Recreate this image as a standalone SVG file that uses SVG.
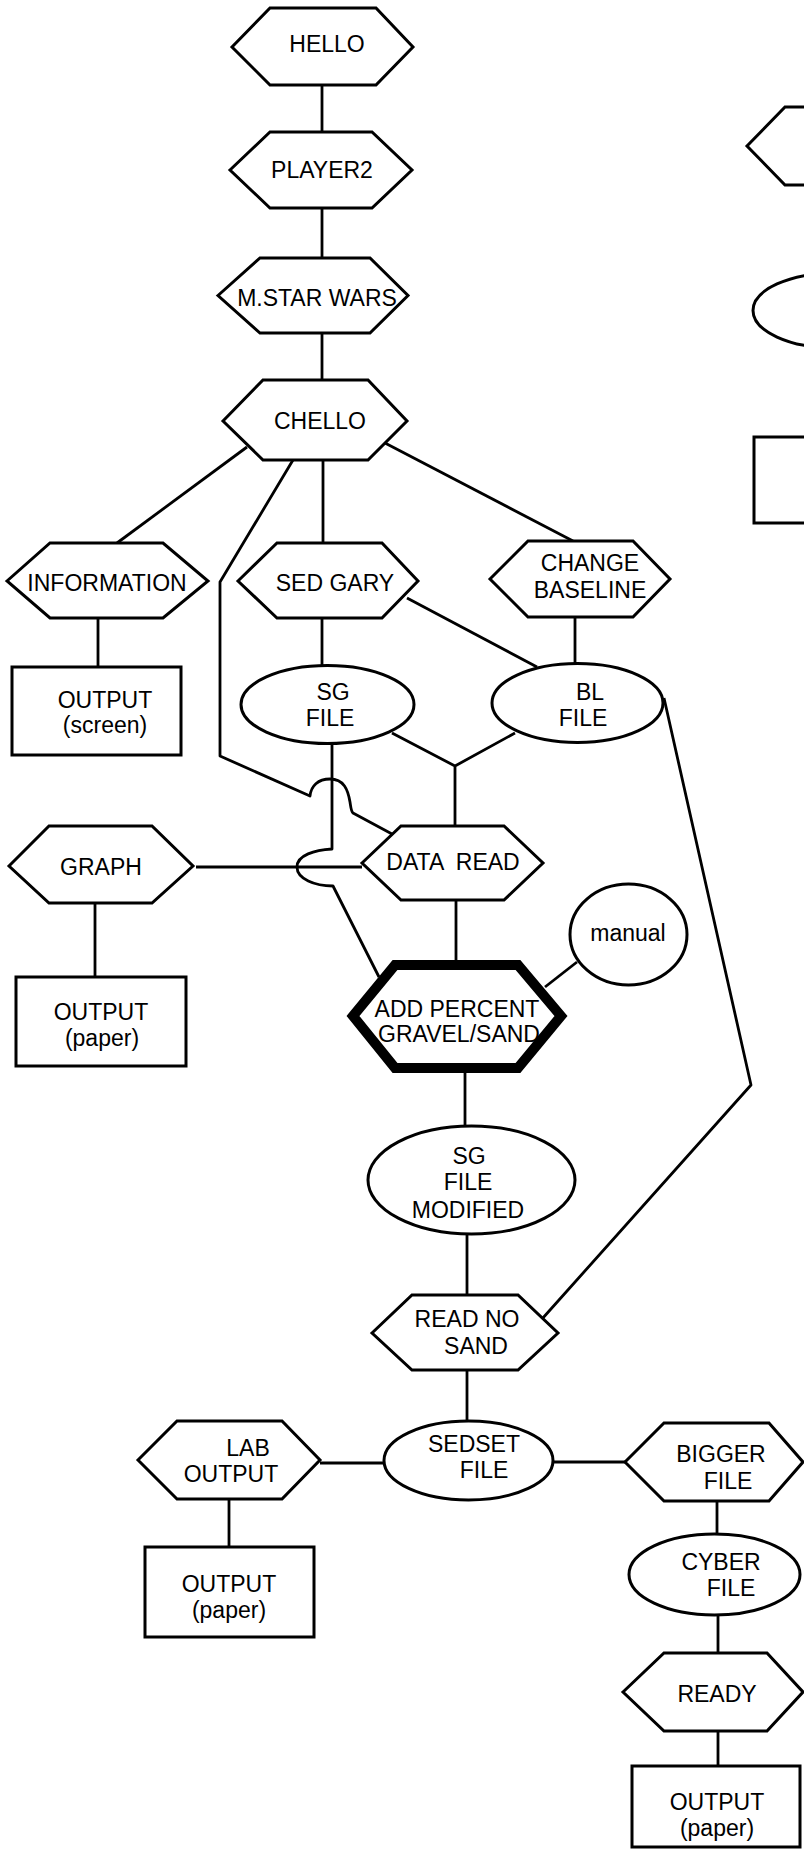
<svg xmlns="http://www.w3.org/2000/svg" width="804" height="1853" viewBox="0 0 804 1853">
<style>
.s{fill:#fff;stroke:#000;stroke-width:3;stroke-linejoin:miter}
.c{fill:none;stroke:#000;stroke-width:2.8;stroke-linejoin:round}
text{font-family:"Liberation Sans",Arial,Helvetica,sans-serif;font-size:23px;fill:#000;text-anchor:middle}
</style>
<rect width="804" height="1853" fill="#fff"/>
<g id="connectors" class="c">
<path d="M322,85V132"/>
<path d="M322,208V258"/>
<path d="M322,333V380"/>
<path d="M247,447L117,543"/>
<path d="M323,460V543"/>
<path d="M385,443L573,541"/>
<path d="M293,460L220,582V756L310,796C311,786 318,779 330,779C344,779 348,790 350,802C351,808 351,811 353,813L392,834"/>
<path d="M98,618V667"/>
<path d="M322,618V666"/>
<path d="M407,598L537,667"/>
<path d="M575,617V664"/>
<path d="M392,733L455,766L515,733M455,766V826"/>
<path d="M332,743V849C315,850 297,855 297,867C297,879 315,886 333,886L379,977"/>
<path d="M196,867H362"/>
<path d="M95,903V977"/>
<path d="M456,900V960"/>
<path d="M577,962L545,987"/>
<path d="M465,1073V1126"/>
<path d="M664,698L751,1085L542,1319"/>
<path d="M467,1234V1295"/>
<path d="M467,1370V1421"/>
<path d="M320,1463H384"/>
<path d="M553,1462H625"/>
<path d="M229,1499V1547"/>
<path d="M717,1501V1534"/>
<path d="M718,1615V1653"/>
<path d="M718,1731V1766"/>
</g>
<g id="legend">
<polygon class="s" points="747,146 785,107 900,107 900,185 785,185"/>
<ellipse class="s" cx="835" cy="310.5" rx="82" ry="37.5"/>
<rect class="s" x="754" y="437" width="120" height="86"/>
</g>
<g id="hello"><polygon class="s" points="232,47 270,8 376,8 413,47 376,85 270,85"/><text x="327" y="52">HELLO</text></g>
<g id="player2"><polygon class="s" points="230,170 270,132 372,132 412,170 372,208 270,208"/><text x="322" y="178">PLAYER2</text></g>
<g id="mstarwars"><polygon class="s" points="218,295.5 260,258 370,258 408,295.5 370,333 260,333"/><text x="317" y="306">M.STAR WARS</text></g>
<g id="chello"><polygon class="s" points="223,421 263,380 368,380 407,421 368,460 263,460"/><text x="320" y="429">CHELLO</text></g>
<g id="information"><polygon class="s" points="7,581 50,543 163,543 208,581 163,618 50,618"/><text x="107" y="591">INFORMATION</text></g>
<g id="sedgary"><polygon class="s" points="238,581 277,543 382,543 418,581 382,618 277,618"/><text x="335" y="591">SED GARY</text></g>
<g id="changebaseline"><polygon class="s" points="490,579 528,541 633,541 670,579 633,617 528,617"/><text x="590" y="571">CHANGE</text><text x="590" y="598">BASELINE</text></g>
<g id="outputscreen"><rect class="s" x="12" y="667" width="169" height="88"/><text x="105" y="708">OUTPUT</text><text x="105" y="733">(screen)</text></g>
<g id="sgfile"><ellipse class="s" cx="327.5" cy="704.5" rx="86.5" ry="39"/><text x="333" y="700">SG</text><text x="330" y="726">FILE</text></g>
<g id="blfile"><ellipse class="s" cx="577.5" cy="703" rx="85.5" ry="39.5"/><text x="590" y="700">BL</text><text x="583" y="726">FILE</text></g>
<g id="graph"><polygon class="s" points="9,866 49,826 152,826 193,866 152,903 49,903"/><text x="101" y="875">GRAPH</text></g>
<g id="dataread"><polygon class="s" points="362,863 401,826 504,826 543,863 504,900 401,900"/><text x="453" y="870" xml:space="preserve">DATA  READ</text></g>
<g id="outputpaper1"><rect class="s" x="16" y="977" width="170" height="89"/><text x="101" y="1020">OUTPUT</text><text x="102" y="1046">(paper)</text></g>
<g id="manual"><ellipse class="s" cx="628.5" cy="934.5" rx="58.5" ry="50.5"/><text x="628" y="941">manual</text></g>
<g id="addpercent"><polygon fill="#fff" stroke="#000" stroke-width="10" points="353,1016 395,965 518,965 561,1016 518,1068 395,1068"/><text x="457" y="1017">ADD PERCENT</text><text x="459" y="1042">GRAVEL/SAND</text></g>
<g id="sgfilemodified"><ellipse class="s" cx="471.5" cy="1180" rx="103.5" ry="54"/><text x="469" y="1164">SG</text><text x="468" y="1190">FILE</text><text x="468" y="1218">MODIFIED</text></g>
<g id="readnosand"><polygon class="s" points="372,1333 412,1295 518,1295 558,1333 518,1370 412,1370"/><text x="467" y="1327">READ NO</text><text x="476" y="1354">SAND</text></g>
<g id="sedsetfile"><ellipse class="s" cx="468.5" cy="1460.5" rx="84.5" ry="39.5"/><text x="474" y="1452">SEDSET</text><text x="484" y="1478">FILE</text></g>
<g id="laboutput"><polygon class="s" points="138,1460 177,1421 282,1421 320,1460 282,1499 177,1499"/><text x="248" y="1456">LAB</text><text x="231" y="1482">OUTPUT</text></g>
<g id="outputpaper2"><rect class="s" x="145" y="1547" width="169" height="90"/><text x="229" y="1592">OUTPUT</text><text x="229" y="1618">(paper)</text></g>
<g id="biggerfile"><polygon class="s" points="625,1462 664,1423 769,1423 803,1462 769,1501 664,1501"/><text x="721" y="1462">BIGGER</text><text x="728" y="1489">FILE</text></g>
<g id="cyberfile"><ellipse class="s" cx="714.5" cy="1574.5" rx="85.5" ry="40.5"/><text x="721" y="1570">CYBER</text><text x="731" y="1596">FILE</text></g>
<g id="ready"><polygon class="s" points="623,1692 664,1653 767,1653 803,1692 767,1731 664,1731"/><text x="717" y="1702">READY</text></g>
<g id="outputpaper3"><rect class="s" x="632" y="1766" width="168" height="81"/><text x="717" y="1810">OUTPUT</text><text x="717" y="1836">(paper)</text></g>
</svg>
